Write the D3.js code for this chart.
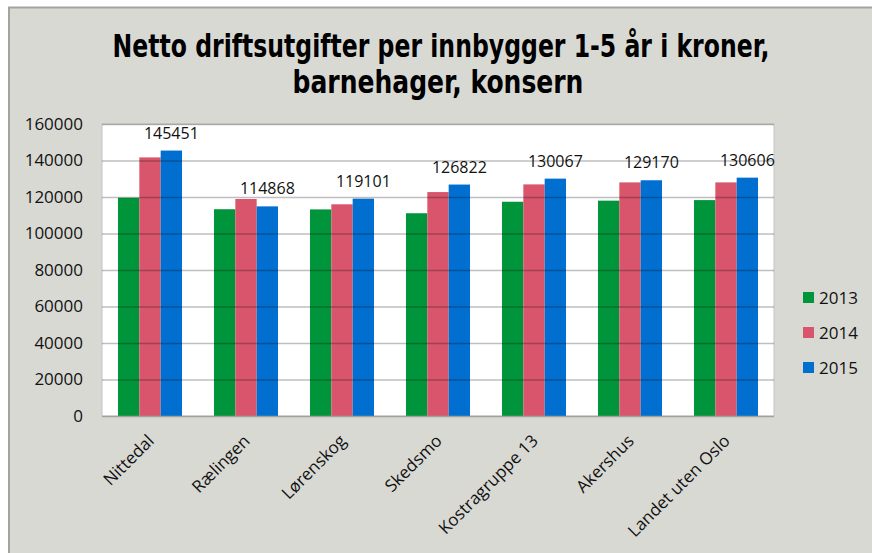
<!DOCTYPE html>
<html>
<head>
<meta charset="utf-8">
<script src="https://cdn.jsdelivr.net/npm/d3@7"></script>
<style>
  body { margin: 0; background: #fff; }
  svg { display: block; }
</style>
</head>
<body>
<div id="chart"></div>
<script>
// Data
const categories = ["Nittedal", "Rælingen", "Lørenskog", "Skedsmo", "Kostragruppe 13", "Akershus", "Landet uten Oslo"];
const years = ["2013", "2014", "2015"];
const values2013 = [119600, 113300, 113200, 111100, 117400, 118000, 118300];
const values2014 = [141700, 118900, 116000, 122700, 126900, 128000, 128000];
const values2015 = [145451, 114868, 119101, 126822, 130067, 129170, 130606];
const yTicks = [0, 20000, 40000, 60000, 80000, 100000, 120000, 140000, 160000];

const colors = { "2013": "#00953b", "2014": "#d9556b", "2015": "#006fcf" };
const seriesValues = { "2013": values2013, "2014": values2014, "2015": values2015 };

const W = 872, H = 553;
const plot = { left: 102, top: 124, right: 774, bottom: 416 };
const font = "'Open Sans', sans-serif";

const svg = d3.select("#chart").append("svg")
    .attr("width", W)
    .attr("height", H);

// Outer frame
svg.append("rect")
    .attr("x", 9).attr("y", 7)
    .attr("width", W - 9).attr("height", H - 7)
    .attr("fill", "#d9d9d4");
svg.append("path")
    .attr("d", `M9,${H} L9,7.5 L${W},7.5`)
    .attr("fill", "none")
    .attr("stroke", "#a3a3a3")
    .attr("stroke-width", 2);

// Title lines, squeezed horizontally to the width of the original
const titleLines = [
    { text: "Netto driftsutgifter per innbygger 1-5 år i kroner,", cx: 441, y: 57, w: 657 },
    { text: "barnehager, konsern", cx: 438, y: 93, w: 291 }
];
titleLines.forEach(function(l) {
    const t = svg.append("text")
        .attr("x", 0).attr("y", l.y)
        .attr("text-anchor", "middle")
        .style("font-family", "'DejaVu Sans Condensed', 'Liberation Sans Narrow', Arial, sans-serif")
        .style("font-weight", "bold")
        .style("font-size", "32px")
        .attr("fill", "#000")
        .text(l.text);
    const natural = t.node().getComputedTextLength();
    t.attr("transform", "translate(" + l.cx + ",0) scale(" + (l.w / natural) + ",1)");
});

// Scales
const x0 = d3.scaleBand()
    .domain(categories)
    .range([plot.left, plot.right])
    .paddingInner(0.333)
    .paddingOuter(0.1665);

const x1 = d3.scaleBand()
    .domain(years)
    .range([0, x0.bandwidth()]);

const y = d3.scaleLinear()
    .domain([0, 160000])
    .range([plot.bottom, plot.top]);

// Plot area
svg.append("rect")
    .attr("x", plot.left).attr("y", plot.top)
    .attr("width", plot.right - plot.left)
    .attr("height", plot.bottom - plot.top)
    .attr("fill", "#fff")
    .attr("stroke", "#c4c4c4")
    .attr("stroke-width", 1);

// Bars
const groups = svg.append("g").selectAll("g")
    .data(categories)
    .enter()
    .append("g")
    .attr("transform", d => "translate(" + x0(d) + ",0)");

groups.selectAll("rect")
    .data((d, i) => years.map(yr => ({ year: yr, value: seriesValues[yr][i] })))
    .enter()
    .append("rect")
    .attr("x", d => x1(d.year))
    .attr("y", d => y(d.value))
    .attr("width", x1.bandwidth())
    .attr("height", d => y(0) - y(d.value))
    .attr("fill", d => colors[d.year]);

// Gridlines drawn over the bars, like the original
svg.append("g")
    .attr("transform", "translate(" + plot.left + ",0)")
    .call(d3.axisLeft(y).tickValues(yTicks.slice(1)).tickSize(-(plot.right - plot.left)).tickFormat(""))
    .call(g => g.select(".domain").remove())
    .call(g => g.selectAll("line").attr("stroke", "#000").attr("stroke-opacity", 0.25).attr("stroke-width", 1.5));

// Base line
svg.append("line")
    .attr("x1", plot.left).attr("x2", plot.right)
    .attr("y1", plot.bottom + 0.5).attr("y2", plot.bottom + 0.5)
    .attr("stroke", "#a0a0a0")
    .attr("stroke-width", 1.5);

// Y axis labels
const yAxis = svg.append("g")
    .attr("transform", "translate(" + plot.left + ",0)")
    .call(d3.axisLeft(y).tickValues(yTicks).tickSize(0).tickPadding(19).tickFormat(d3.format("d")));
yAxis.select(".domain").remove();
yAxis.selectAll("text")
    .style("font-family", font)
    .style("font-size", "17px")
    .attr("fill", "#111");

// Data labels for 2015
svg.append("g").selectAll("text")
    .data(values2015)
    .enter()
    .append("text")
    .attr("x", (d, i) => x0(categories[i]) + x1("2015") + x1.bandwidth() / 2)
    .attr("y", d => y(d) - 12)
    .attr("text-anchor", "middle")
    .style("font-family", font)
    .style("font-size", "16px")
    .attr("fill", "#111")
    .text(d => d);

// Category labels, rotated
svg.append("g").selectAll("text")
    .data(categories)
    .enter()
    .append("text")
    .attr("transform", d => "translate(" + (x0(d) + x0.bandwidth() / 2 + 5) + "," + (plot.bottom + 26) + ") rotate(-45)")
    .attr("text-anchor", "end")
    .style("font-family", font)
    .style("font-size", "17px")
    .attr("fill", "#111")
    .text(d => d);

// Legend
const legend = svg.append("g").selectAll("g")
    .data(years)
    .enter()
    .append("g")
    .attr("transform", (d, i) => "translate(803," + (297 + i * 35) + ")");
legend.append("rect")
    .attr("x", 0).attr("y", -5)
    .attr("width", 11).attr("height", 11)
    .attr("fill", d => colors[d]);
legend.append("text")
    .attr("x", 16).attr("y", 7)
    .style("font-family", font)
    .style("font-size", "17px")
    .attr("fill", "#111")
    .text(d => d);
</script>
</body>
</html>
